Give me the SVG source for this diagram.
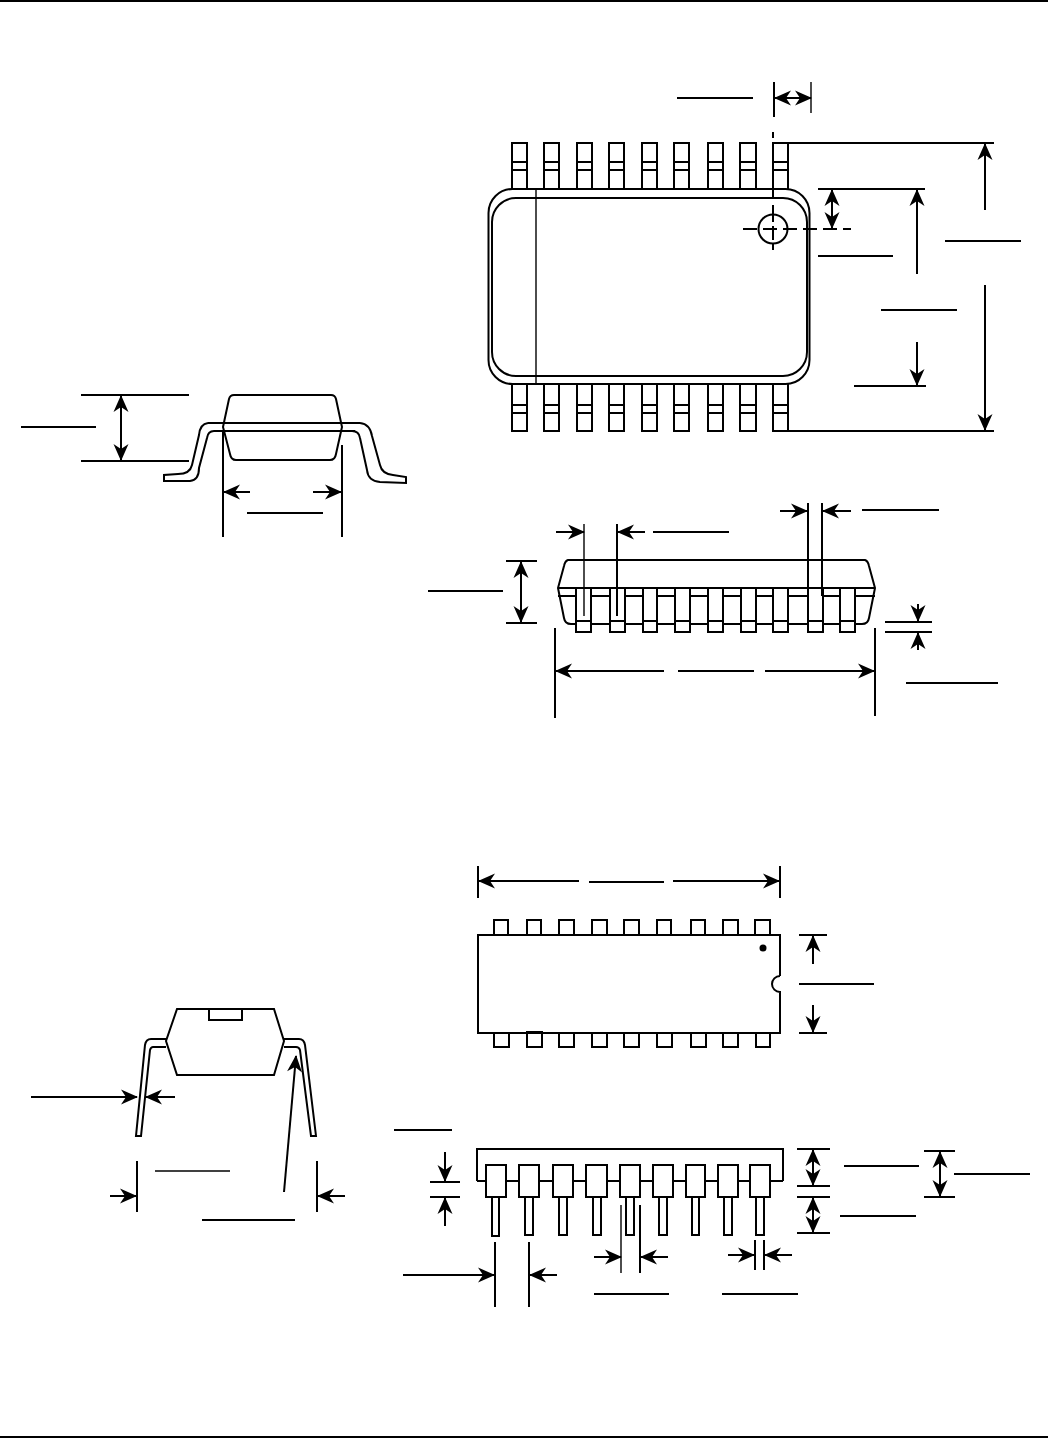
<svg xmlns="http://www.w3.org/2000/svg" width="1048" height="1438" viewBox="0 0 1048 1438">
<style>
.o{fill:none;stroke:#000;stroke-width:2}
.p{fill:#fff;stroke:#000;stroke-width:2}
.t{fill:none;stroke:#000;stroke-width:1.400}
.a{fill:none;stroke:#000;stroke-width:2;marker-end:url(#h)}
.d{fill:none;stroke:#000;stroke-width:2;marker-start:url(#h);marker-end:url(#h)}
</style>
<defs>
<marker id="h" markerUnits="userSpaceOnUse" markerWidth="20" markerHeight="18" viewBox="-18 -9 20 18" refX="0" refY="0" orient="auto-start-reverse"><path d="M1,0L-16,-7.500L-11,0L-16,7.500Z" fill="#000"/></marker>
</defs>
<rect width="1048" height="2" fill="#000"/>
<rect y="1436" width="1048" height="2" fill="#000"/>

<g id="soic-top">
<path class="o" d="M512,189V143H527V189M544,189V143H559V189M577,189V143H592V189M609,189V143H624V189M642,189V143H657V189M674,189V143H689V189M708,189V143H723V189M740,189V143H756V189M773,189V143H788V189"/>
<path class="o" d="M512,162H527M512,170H527M544,162H559M544,170H559M577,162H592M577,170H592M609,162H624M609,170H624M642,162H657M642,170H657M674,162H689M674,170H689M708,162H723M708,170H723M740,162H756M740,170H756M773,162H788M773,170H788"/>
<path class="o" d="M512,384V431H527V384M544,384V431H559V384M577,384V431H592V384M609,384V431H624V384M642,384V431H657V384M674,384V431H689V384M708,384V431H723V384M740,384V431H756V384M773,384V431H788V384"/>
<path class="o" d="M512,405H527M512,413H527M544,405H559M544,413H559M577,405H592M577,413H592M609,405H624M609,413H624M642,405H657M642,413H657M674,405H689M674,413H689M708,405H723M708,413H723M740,405H756M740,413H756M773,405H788M773,413H788"/>
<rect class="o" x="488.500" y="189" width="321" height="195" rx="24"/>
<rect class="o" x="492" y="198" width="315" height="178" rx="24"/>
<path class="t" d="M536,189V384"/>
<circle class="o" cx="773" cy="229" r="14.500"/>
<path class="o" stroke-dasharray="14 6" d="M743,229H851"/>
<path class="o" d="M773,132V138M773,143V198M773,205V222M773,226V240M773,244V250"/>
</g>

<g id="soic-side">
<path class="p" d="M568,560H865Q868,561 869,566L875,588L869,618Q868,624 862,624H571Q565,624 564,618L558,588L564,566Q565,561 568,560Z"/>
<path class="o" d="M558,588H875M558,596H875"/>
<path class="p" d="M576,588H591V632H576ZM610,588H625V632H610ZM643,588H657V632H643ZM675,588H690V632H675ZM708,588H723V632H708ZM741,588H756V632H741ZM773,588H788V632H773ZM808,588H823V632H808ZM840,588H855V632H840Z"/>
<path class="o" d="M576,621H591M610,621H625M643,621H657M675,621H690M708,621H723M741,621H756M773,621H788M808,621H823M840,621H855"/>
</g>

<g id="soic-end">
<path class="p" d="M234,395H331Q335,395 336,399L342,427L336,454Q335,460 330,460H236Q231,460 230,454L223,427L229,399Q230,395 234,395Z"/>
<path class="o" d="M208,423H360M214,431H355"/>
<path class="o" d="M208,423Q200,424 199,435L192,465Q190,474 178,474L164,475V481H190Q199,480 199,468L207,438Q208,431 214,431"/>
<path class="o" d="M360,423Q370,424 372,436L380,465Q382,474 393,475L406,477V483L380,482Q368,481 367,470L360,438Q359,431 352,431"/>
</g>

<g id="dip-end">
<path class="p" d="M177,1009H274L284,1041L274,1075H177L166,1041Z"/>
<path class="o" d="M209,1009V1020H242V1009"/>
<path class="o" d="M166,1039H151Q146,1039 145,1045L136,1136H141L150,1050Q151,1047 153,1047H166"/>
<path class="o" d="M284,1039H299Q304,1039 305,1045L316,1136H311L300,1050Q299,1047 296,1047H284"/>
</g>

<g id="dip-top">
<path class="p" d="M494,935V920H508V935M527,935V920H541V935M559,935V920H574V935M592,935V920H607V935M624,935V920H639V935M657,935V920H671V935M691,935V920H705V935M723,935V920H738V935M755,935V920H770V935"/>
<path class="p" d="M494,1033V1047H509V1033M559,1033V1047H574V1033M592,1033V1047H607V1033M624,1033V1047H639V1033M657,1033V1047H672V1033M691,1033V1047H706V1033M723,1033V1047H738V1033M756,1033V1047H770V1033"/>
<path class="o" d="M780,976V935H478V1033H780V992A8,8 0 0 1 780,976"/>
<rect class="o" x="527" y="1032" width="15" height="15"/>
<circle cx="763" cy="948" r="3.500" fill="#000"/>
</g>

<g id="dip-side">
<path class="o" d="M477,1181V1149H783V1181"/>
<path class="o" d="M477,1181H783"/>
<path class="p" d="M486,1165H506V1197H486ZM519,1165H539V1197H519ZM553,1165H573V1197H553ZM586,1165H607V1197H586ZM620,1165H640V1197H620ZM653,1165H673V1197H653ZM686,1165H705V1197H686ZM718,1165H738V1197H718ZM750,1165H770V1197H750Z"/>
<path class="o" d="M492,1197V1236H499V1197M525,1197V1235H533V1197M559,1197V1235H567V1197M593,1197V1235H601V1197M626,1197V1235H634V1197M659,1197V1235H667V1197M692,1197V1235H699V1197M724,1197V1235H732V1197M756,1197V1235H764V1197"/>
</g>

<g id="connectors">
<path class="o" d="M774,82V117"/><path class="t" d="M811,82V113"/>
<path class="d" d="M775,98H811"/><path class="o" d="M677,98H753"/>
<path class="o" d="M788,143H994M788,431H994"/>
<path class="a" d="M985,210V144"/><path class="a" d="M985,285V430"/><path class="o" d="M945,241H1021"/>
<path class="o" d="M818,189H925M854,386H926"/>
<path class="a" d="M917,274V190"/><path class="a" d="M917,342V385"/><path class="o" d="M881,310H957"/>
<path class="d" d="M832,190V228"/><path class="o" d="M818,256H893"/>

<path class="t" d="M584,524V616"/><path class="o" d="M617,524V616"/>
<path class="a" d="M556,532H584"/><path class="a" d="M645,532H618"/><path class="o" d="M653,532H729"/>
<path class="o" d="M808,503V596M822,503V596"/>
<path class="a" d="M780,511H807"/><path class="a" d="M851,511H823"/><path class="o" d="M862,510H939"/>
<path class="o" d="M506,561H537M506,623H537"/>
<path class="d" d="M521,562V622"/><path class="o" d="M428,591H503"/>
<path class="o" d="M885,622H932M885,632H932"/>
<path class="a" d="M918,604V621"/><path class="a" d="M918,650V633"/><path class="o" d="M906,683H998"/>
<path class="o" d="M555,628V718M875,628V716"/>
<path class="a" d="M664,671H556"/><path class="a" d="M765,671H874"/><path class="o" d="M678,671H754"/>

<path class="o" d="M81,395H189M81,461H189"/>
<path class="d" d="M121,396V460"/><path class="o" d="M21,427H96"/>
<path class="o" d="M223,431V537M342,445V537"/>
<path class="a" d="M250,492H224"/><path class="a" d="M313,492H341"/><path class="o" d="M247,513H323"/>

<path class="a" d="M284,1192L296,1056"/><path class="o" d="M202,1220H295"/>
<path class="a" d="M31,1097H137"/><path class="a" d="M175,1097H146"/>
<path class="o" d="M137,1161V1212M317,1161V1212"/>
<path class="a" d="M110,1196H136"/><path class="a" d="M345,1196H318"/>
<path class="t" d="M155,1171H230"/>

<path class="o" d="M478,866V898M780,866V898"/>
<path class="a" d="M579,881H479"/><path class="a" d="M673,881H779"/><path class="o" d="M589,882H664"/>
<path class="o" d="M799,935H827M799,1033H827"/>
<path class="a" d="M813,964V936"/><path class="a" d="M813,1005V1032"/><path class="o" d="M799,984H874"/>

<path class="o" d="M495,1242V1307M529,1242V1307"/>
<path class="a" d="M403,1275H494"/><path class="a" d="M557,1275H530"/>
<path class="t" d="M621,1205V1273"/><path class="o" d="M640,1205V1273"/>
<path class="a" d="M594,1257H621"/><path class="a" d="M668,1257H641"/><path class="o" d="M594,1294H669"/>
<path class="o" d="M755,1240V1270M764,1240V1270"/>
<path class="a" d="M728,1255H754"/><path class="a" d="M792,1255H765"/><path class="o" d="M722,1294H798"/>
<path class="o" d="M430,1182H460M430,1197H460"/>
<path class="a" d="M445,1152V1181"/><path class="a" d="M445,1226V1198"/><path class="o" d="M394,1130H452"/>
<path class="o" d="M797,1149H830M797,1186H830M797,1197H830M797,1233H830"/>
<path class="d" d="M813,1150V1185"/><path class="d" d="M813,1198V1232"/>
<path class="o" d="M844,1166H919M840,1216H916"/>
<path class="o" d="M924,1151H955M924,1197H955"/>
<path class="d" d="M940,1152V1196"/><path class="o" d="M954,1174H1030"/>
</g>
</svg>
